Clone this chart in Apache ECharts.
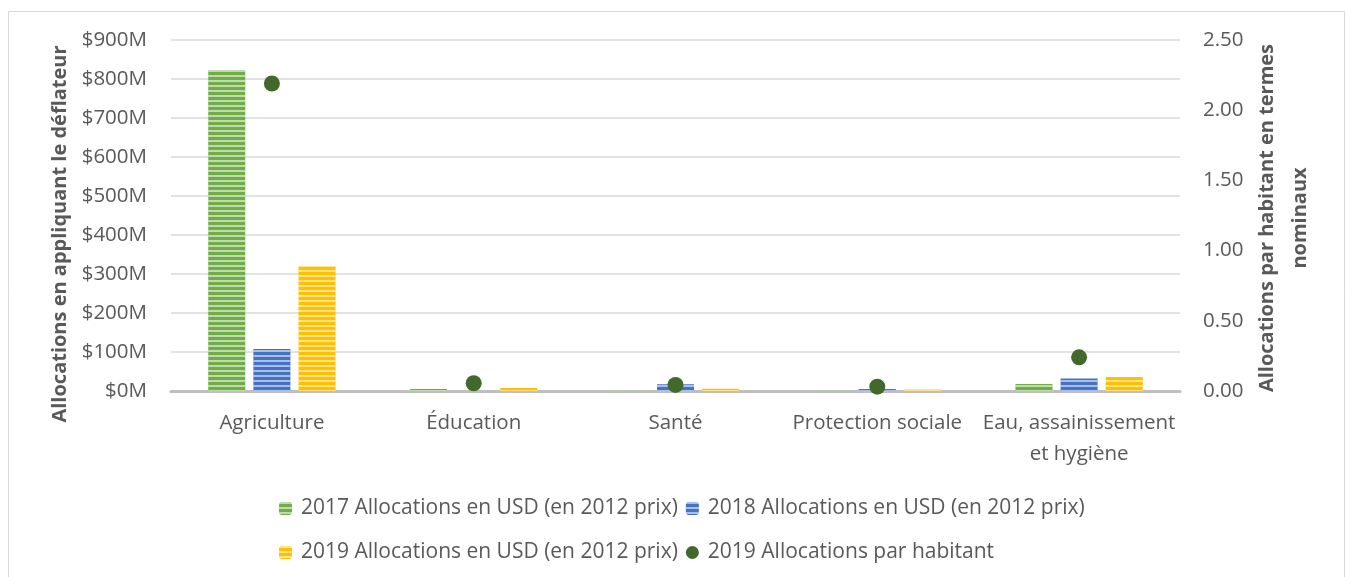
<!DOCTYPE html>
<html><head><meta charset="utf-8">
<script src="https://cdn.jsdelivr.net/npm/echarts@6/dist/echarts.min.js"></script>
<style>html,body{margin:0;padding:0;background:#fff}#c{width:1345px;height:577px}</style>
</head><body><div id="c"></div>
<script>
const categories = ['Agriculture', 'Éducation', 'Santé', 'Protection sociale', 'Eau, assainissement\net hygiène'];
const alloc2017 = [823, 5, 0.5, 0.5, 18];
const alloc2018 = [108, 0, 17, 5, 32];
const alloc2019 = [320, 8, 6, 4, 36];
const perCapita2019 = [2.19, 0.055, 0.043, 0.031, 0.24];
const leftTicks = { min: 0, max: 900, interval: 100 };
const rightTicks = { min: 0, max: 2.5, interval: 0.5 };
const names = ['2017 Allocations en USD (en 2012 prix)', '2018 Allocations en USD (en 2012 prix)', '2019 Allocations en USD (en 2012 prix)', '2019 Allocations par habitant'];
const leftTitle = 'Allocations en appliquant le déflateur';
const rightTitle = ['Allocations par habitant en termes', 'nominaux'];

const FONT = 'Open Sans';
const TXT = '#595959';
const FS = 20.5;
const decal = { symbol: 'rect', dashArrayX: [[1, 0]], dashArrayY: [2, 3], color: 'rgba(255,255,255,0.55)', symbolSize: 1 };
function bar(name, data, color) {
  return { name, type: 'bar', yAxisIndex: 0, data, barWidth: 37, barGap: '22%',
    itemStyle: { color, decal } };
}
const titleStyle = { fontFamily: FONT, fontSize: 20, fontWeight: 'bold', fill: TXT, align: 'center', verticalAlign: 'middle' };
const legendCommon = { left: 274, itemWidth: 13, itemHeight: 13, itemGap: 8,
  textStyle: { fontFamily: FONT, fontSize: 21, color: TXT, padding: [0, 0, 0, 4] } };
const chart = echarts.init(document.getElementById('c'));
chart.setOption({
  animation: false,
  textStyle: { fontFamily: FONT, color: TXT },
  graphic: [
    { type: 'rect', shape: { x: 8.5, y: 11.5, width: 1336, height: 580 }, style: { fill: 'none', stroke: '#d9d9d9', lineWidth: 1 } },
    { type: 'text', x: 60, y: 234, rotation: Math.PI / 2, style: { ...titleStyle, text: leftTitle } },
    { type: 'text', x: 1267, y: 218, rotation: Math.PI / 2, style: { ...titleStyle, text: rightTitle[0] } },
    { type: 'text', x: 1300, y: 218, rotation: Math.PI / 2, style: { ...titleStyle, text: rightTitle[1] } }
  ],
  grid: { left: 171, right: 165, top: 40, bottom: 186 },
  legend: [
    { ...legendCommon, data: [names[0], names[1]], top: 493 },
    { ...legendCommon, data: [names[2], names[3]], top: 537 }
  ],
  xAxis: { type: 'category', data: categories,
    axisLine: { lineStyle: { color: '#bfbfbf', width: 3 } }, axisTick: { show: false },
    axisLabel: { fontFamily: FONT, fontSize: FS, color: TXT, margin: 17, lineHeight: 31, interval: 0 } },
  yAxis: [
    { type: 'value', ...leftTicks, position: 'left',
      axisLine: { show: false }, axisTick: { show: false },
      axisLabel: { fontFamily: FONT, fontSize: FS, color: TXT, margin: 24, formatter: v => '$' + v + 'M' },
      splitLine: { lineStyle: { color: '#d9d9d9', width: 1.5 } } },
    { type: 'value', ...rightTicks, position: 'right',
      axisLine: { show: false }, axisTick: { show: false },
      axisLabel: { fontFamily: FONT, fontSize: FS, color: TXT, margin: 23, formatter: v => v.toFixed(2) },
      splitLine: { show: false } }
  ],
  series: [
    bar(names[0], alloc2017, '#70ad47'),
    bar(names[1], alloc2018, '#4472c4'),
    bar(names[2], alloc2019, '#ffc000'),
    { name: names[3], type: 'scatter', yAxisIndex: 1, data: perCapita2019, symbol: 'circle', symbolSize: 16,
      itemStyle: { color: '#43682b', opacity: 1 }, z: 5 }
  ]
});
</script></body></html>
